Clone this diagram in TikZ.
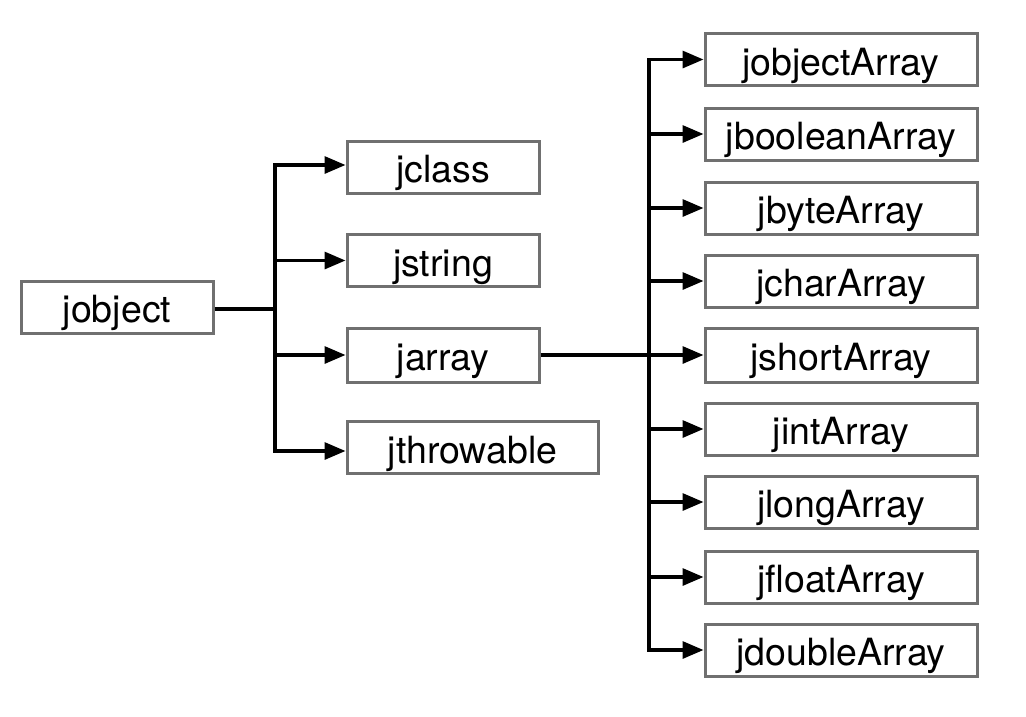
\documentclass[tikz,border=0pt]{standalone}
\usepackage{fontspec}
\setmainfont{TeX Gyre Heros}
\usetikzlibrary{arrows.meta}
\definecolor{boxgray}{RGB}{112,112,112}
\tikzset{
  box/.style={draw=boxgray, line width=3pt, fill=white, inner sep=0pt,
    minimum height=52pt, font=\fontsize{37.5}{44}\selectfont,
    text height=31pt, text depth=0pt},
  lbox/.style={box, minimum width=192pt},
  rbox/.style={box, minimum width=272pt},
  conn/.style={draw=black, line width=3.2pt},
  arr/.style={conn, -{Triangle[length=21pt,width=17pt]}}
}
\begin{document}
\begin{tikzpicture}[x=1pt,y=-1pt]
\useasboundingbox (0,0) rectangle (1026,716);
\node[lbox] (jobject) at (117,307) {jobject};
\node[lbox] (jclass) at (443,167) {jclass};
\node[lbox] (jstring) at (443,260.5) {jstring};
\node[lbox, minimum height=54pt] (jarray) at (443,355) {jarray};
\node[box, minimum width=251pt] (jthrowable) at (472.5,447.5) {jthrowable};

\node[rbox] (a1) at (841,59.5) {jobjectArray};
\node[rbox] (a2) at (841,134) {jbooleanArray};
\node[rbox] (a3) at (841,208) {jbyteArray};
\node[rbox] (a4) at (841,281) {jcharArray};
\node[rbox, minimum height=54pt] (a5) at (841,355) {jshortArray};
\node[rbox] (a6) at (841,429) {jintArray};
\node[rbox] (a7) at (841,502) {jlongArray};
\node[rbox] (a8) at (841,577) {jfloatArray};
\node[rbox] (a9) at (841,650) {jdoubleArray};

\coordinate (t1) at (275,309);
\coordinate (t1top) at (275,165);
\coordinate (t1bot) at (275,451);
\coordinate (t2top) at (649,59.5);
\coordinate (t2bot) at (649,650);

% left tree
\draw[conn] (jobject.east |- t1) -- (t1);
\draw[conn, line cap=rect] (t1top) -- (t1bot);
\draw[arr] (t1top) -- (jclass.west |- t1top);
\draw[arr] (t1 |- jstring.west) -- (jstring.west);
\draw[arr] (t1 |- jarray.west) -- (jarray.west);
\draw[arr] (t1bot) -- (jthrowable.west |- t1bot);

% right tree
\draw[conn, line cap=rect] (t2top) -- (t2bot);
\draw[arr] (jarray.east) -- (a5.west);
\foreach \n in {a1,a2,a3,a4,a6,a7,a8,a9}{
  \draw[arr] (t2top |- \n.west) -- (\n.west);
}
\end{tikzpicture}
\end{document}
